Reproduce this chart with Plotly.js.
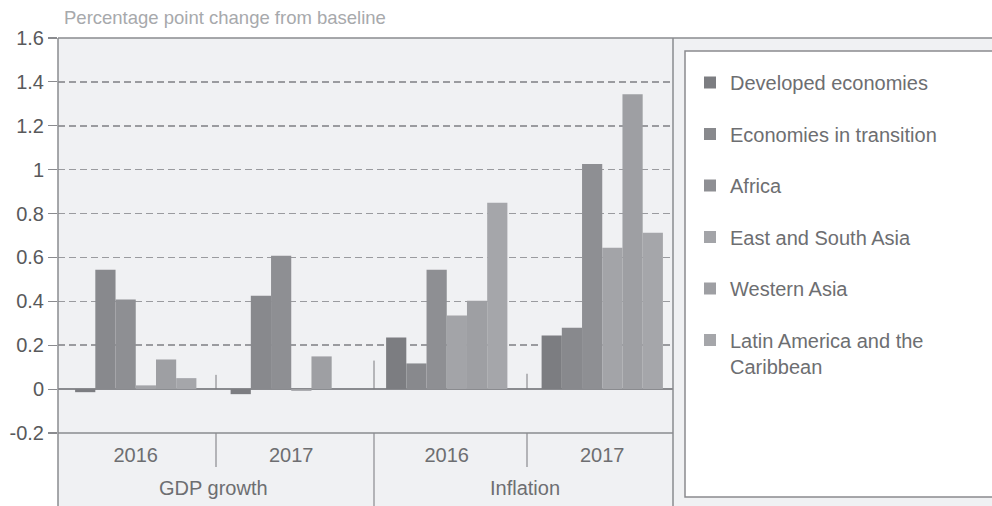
<!DOCTYPE html>
<html>
<head>
<meta charset="utf-8">
<script src="https://cdn.plot.ly/plotly-3.0.1.min.js"></script>
<style>html,body{margin:0;padding:0;background:#fff}#chart{width:992px;height:506px}</style>
</head>
<body>
<div id="chart"></div>
<script>
// ---- data ----
const outerCats = ["GDP growth", "GDP growth", "Inflation", "Inflation"];
const innerCats = ["2016", "2017", "2016", "2017"];
const seriesNames = ["Developed economies", "Economies in transition", "Africa", "East and South Asia", "Western Asia", "Latin America and the<br>Caribbean"];
const developed  = [-0.014, -0.023, 0.235, 0.244];
const transition = [0.544, 0.426, 0.117, 0.280];
const africa     = [0.408, 0.608, 0.544, 1.026];
const eastSouthAsia = [0.017, -0.008, 0.335, 0.644];
const westernAsia   = [0.135, 0.149, 0.403, 1.344];
const latinAmerica  = [0.050, 0.000, 0.849, 0.712];
const seriesColors = ["#7c7d81", "#88898d", "#8e8f93", "#a3a4a8", "#9e9fa3", "#a5a6aa"];
const yTickVals = [-0.2, 0, 0.2, 0.4, 0.6, 0.8, 1, 1.2, 1.4, 1.6];
const yTickText = ["-0.2", "0", "0.2", "0.4", "0.6", "0.8", "1", "1.2", "1.4", "1.6"];
const boundaryStubs = [0.065, 0.13, 0.07];
const yTitle = "Percentage point change from baseline";

const allSeries = [developed, transition, africa, eastSouthAsia, westernAsia, latinAmerica];
const FONT = "Liberation Sans, Arial, sans-serif";
const catIndex = innerCats.map((_, i) => i);

const traces = allSeries.map((vals, i) => ({
  type: "bar",
  name: seriesNames[i],
  legendgroup: "g" + i,
  x: catIndex,
  y: vals,
  marker: {color: seriesColors[i], line: {width: 0}},
  hoverinfo: "skip"
}));

// outer group labels centred under their categories
const groups = [];
outerCats.forEach((g, i) => {
  let grp = groups.find(o => o.name === g);
  if (!grp) { grp = {name: g, idx: []}; groups.push(grp); }
  grp.idx.push(i);
});

const L = 58, R = 680, T = 38, B = 433;
const W = R - L, H = B - T;
const px = v => (v - L) / W;     // pixel -> paper x
const py = v => (B - v) / H;     // pixel -> paper y
const lineCol = "#8a8b8f";
const frameR = px(673), boxL = px(685);

const shapes = [
  {type: "rect", xref: "paper", yref: "paper", x0: 0, x1: 1.6, y0: py(520), y1: 1, fillcolor: "#f0f1f3", line: {width: 0}, layer: "below"},
  {type: "rect", xref: "paper", yref: "paper", x0: boxL, x1: 1.6, y0: py(497), y1: py(51), fillcolor: "#ffffff", line: {color: lineCol, width: 1.5}, layer: "below"},
  // cover the strip between frame and legend box
  {type: "rect", xref: "paper", yref: "paper", x0: frameR, x1: boxL - 0.002, y0: py(51) - 0.001, y1: py(39), fillcolor: "#f0f1f3", line: {width: 0}, layer: "above"},
  {type: "rect", xref: "paper", yref: "paper", x0: frameR, x1: boxL - 0.002, y0: py(520), y1: py(51), fillcolor: "#f0f1f3", line: {width: 0}, layer: "above"},
  {type: "line", xref: "paper", yref: "paper", x0: 0, x1: 1.6, y0: 1, y1: 1, line: {color: lineCol, width: 1.5}, layer: "above"},
  {type: "line", xref: "paper", yref: "paper", x0: 0, x1: frameR, y0: 0, y1: 0, line: {color: lineCol, width: 1.5}, layer: "above"},
  {type: "line", xref: "paper", yref: "paper", x0: 0, x1: 0, y0: py(520), y1: 1, line: {color: lineCol, width: 1.5}, layer: "above"},
  {type: "line", xref: "paper", yref: "paper", x0: frameR, x1: frameR, y0: py(520), y1: 1, line: {color: lineCol, width: 1.5}, layer: "above"},
  {type: "line", xref: "paper", yref: "paper", x0: px(374), x1: px(374), y0: py(520), y1: 0, line: {color: lineCol, width: 1.2}},
  {type: "line", xref: "paper", yref: "paper", x0: px(216), x1: px(216), y0: py(467), y1: 0, line: {color: lineCol, width: 1.2}},
  {type: "line", xref: "paper", yref: "paper", x0: px(527), x1: px(527), y0: py(467), y1: 0, line: {color: lineCol, width: 1.2}}
];
[216, 374, 527].forEach((xp, i) => {
  shapes.push({type: "line", xref: "paper", yref: "y", x0: px(xp), x1: px(xp), y0: 0, y1: boundaryStubs[i], line: {color: "#7a7b7f", width: 1}});
});

const annotations = [{
  text: yTitle, xref: "paper", yref: "paper",
  x: px(62), xanchor: "left", y: py(18), yanchor: "middle",
  showarrow: false, font: {family: FONT, size: 18.5, color: "#a7a9ac"}
}];
groups.forEach(g => {
  const c = g.idx.reduce((a, b) => a + b, 0) / g.idx.length;
  annotations.push({
    text: g.name, xref: "x", yref: "paper", x: c, xanchor: "center",
    y: py(488), yanchor: "middle", showarrow: false,
    font: {family: FONT, size: 20, color: "#6d6e71"}
  });
});

const layout = {
  width: 992, height: 506,
  margin: {l: L, r: 992 - R, t: T, b: 506 - B, pad: 0},
  paper_bgcolor: "#ffffff",
  plot_bgcolor: "rgba(0,0,0,0)",
  font: {family: FONT, size: 20, color: "#6d6e71"},
  barmode: "group",
  bargap: 0.22,
  bargroupgap: 0,
  showlegend: true,
  legend: {
    x: px(690), xanchor: "left",
    y: py(63), yanchor: "top",
    bgcolor: "rgba(0,0,0,0)", borderwidth: 0,
    font: {family: FONT, size: 20, color: "#6d6e71"},
    traceorder: "grouped", tracegroupgap: 22.5, valign: "top"
  },
  xaxis: {
    range: [-0.5, innerCats.length - 0.5],
    tickvals: catIndex, ticktext: innerCats,
    ticks: "outside", ticklen: 4, tickcolor: "rgba(0,0,0,0)",
    showgrid: false, showline: false, zeroline: false,
    tickfont: {family: FONT, size: 20, color: "#6d6e71"},
    fixedrange: true
  },
  yaxis: {
    range: [-0.2, 1.6],
    tickvals: yTickVals, ticktext: yTickText,
    ticks: "outside", ticklen: 9, tickcolor: lineCol, tickwidth: 1.2,
    showline: false,
    showgrid: true, gridcolor: "#9a9b9f", gridwidth: 1.5, griddash: "7px,4px",
    zeroline: true, zerolinecolor: lineCol, zerolinewidth: 1.5,
    tickfont: {family: FONT, size: 20, color: "#58595b"},
    fixedrange: true
  },
  shapes: shapes,
  annotations: annotations
};

Plotly.newPlot("chart", traces, layout, {displayModeBar: false, staticPlot: true});
</script>
</body>
</html>
